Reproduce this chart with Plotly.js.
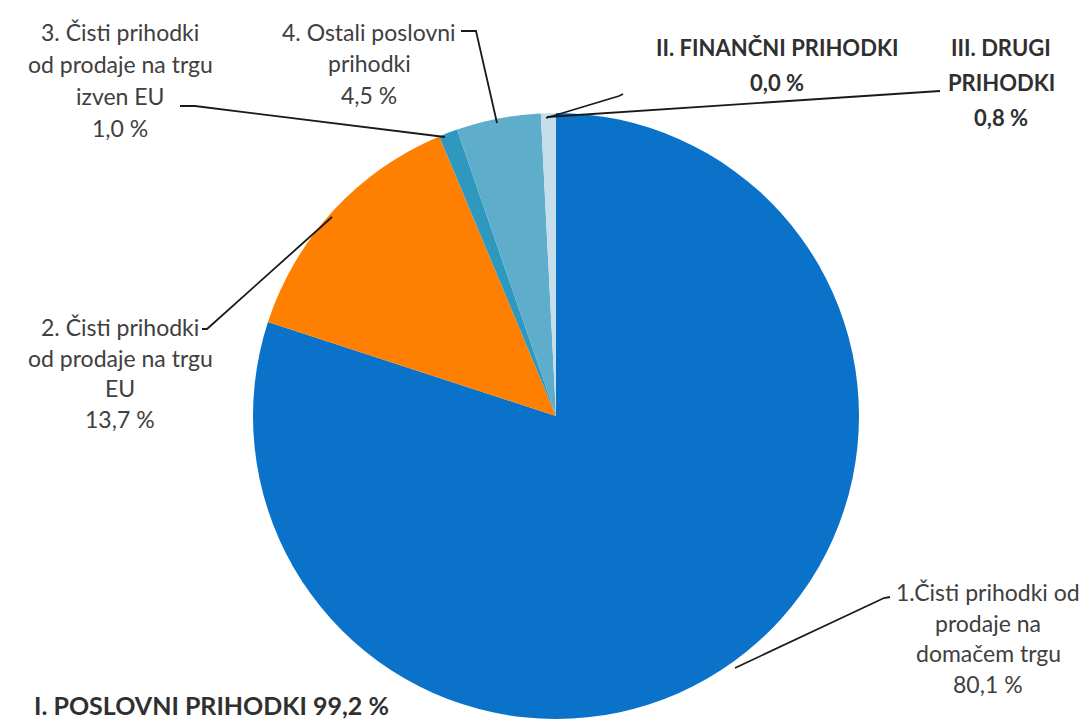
<!DOCTYPE html>
<html>
<head>
<meta charset="utf-8">
<script src="https://cdn.plot.ly/plotly-3.0.1.min.js"></script>
<style>html,body{margin:0;padding:0;background:#fff;}#chart{width:1088px;height:722px;}</style>
</head>
<body>
<div id="chart"></div>
<script>
// ---- data ----
var categories = [
  "1.Čisti prihodki od prodaje na domačem trgu",
  "2. Čisti prihodki od prodaje na trgu EU",
  "3. Čisti prihodki od prodaje na trgu izven EU",
  "4. Ostali poslovni prihodki",
  "II. FINANČNI PRIHODKI",
  "III. DRUGI PRIHODKI"
];
var values = [80.1, 13.7, 1.0, 4.5, 0.0, 0.8];
var labelLines = [
  ["1.Čisti prihodki od", "prodaje na", "domačem trgu"],
  ["2. Čisti prihodki", "od prodaje na trgu", "EU"],
  ["3. Čisti prihodki", "od prodaje na trgu", "izven EU"],
  ["4. Ostali poslovni", "prihodki"],
  ["II. FINANČNI PRIHODKI"],
  ["III. DRUGI", "PRIHODKI"]
];
var groupLabel = "I. POSLOVNI PRIHODKI";
var groupValue = 99.2;

// ---- styles / layout positions ----
var W = 1088, H = 722;
var colors = ["#0A72C8", "#FF8000", "#2F98BF", "#5EADCB", "#8FC3D8", "#C6DDEA"];
var bold = [false, false, false, false, true, true];
// label position: [center x px, first line y px, line spacing px]
var labelPos = [
  [988, 592, 30.5],
  [120, 327, 30.5],
  [120, 32, 32],
  [369, 32, 31.5],
  [777, 47, 35],
  [1001, 47, 35]
];
// leader lines in px
var leaders = [
  [[735, 668], [884, 598], [890, 597]],
  [[332, 217], [207, 329], [202, 329]],
  [[180, 106], [195, 106], [445, 137]],
  [[461, 31], [476, 31], [497, 123]],
  [[546, 118], [619, 96], [623, 94]],
  [[547, 117], [940, 91]]
];

function px(x) { return x / W; }
function py(y) { return 1 - y / H; }
function fmt(v) { return v.toFixed(1).replace('.', ',') + ' %'; }

var cx = 556, cy = 416, r = 303;
var trace = {
  type: 'pie',
  labels: categories,
  values: values,
  sort: false,
  direction: 'clockwise',
  rotation: 0,
  textinfo: 'none',
  hoverinfo: 'label+percent',
  marker: { colors: colors, line: { width: 0 } },
  domain: { x: [px(cx - r), px(cx + r)], y: [py(cy + r), py(cy - r)] },
  showlegend: false
};

var annotations = [];
labelLines.forEach(function (lines, i) {
  var all = lines.concat([fmt(values[i])]);
  var p = labelPos[i];
  all.forEach(function (t, j) {
    annotations.push({
      xref: 'paper', yref: 'paper',
      x: px(p[0]), y: py(p[1] + j * p[2]),
      xanchor: 'center', yanchor: 'middle',
      text: bold[i] ? '<b>' + t + '</b>' : t,
      showarrow: false,
      font: { family: 'Lato, "Open Sans", sans-serif', size: bold[i] ? 22 : 23, color: bold[i] ? '#303030' : '#404040' }
    });
  });
});
annotations.push({
  xref: 'paper', yref: 'paper', x: px(32), y: py(705),
  xanchor: 'left', yanchor: 'middle', showarrow: false,
  text: '<b>' + groupLabel + ' ' + fmt(groupValue) + '</b>',
  font: { family: 'Lato, "Open Sans", sans-serif', size: 25, color: '#303030' }
});

var shapes = leaders.map(function (pts) {
  var d = pts.map(function (p, k) { return (k ? 'L' : 'M') + px(p[0]) + ',' + py(p[1]); }).join(' ');
  return { type: 'path', xref: 'paper', yref: 'paper', path: d, line: { color: '#1a1a1a', width: 1.8 } };
});

var layout = {
  width: W, height: H,
  margin: { l: 0, r: 0, t: 0, b: 0 },
  paper_bgcolor: '#fff',
  annotations: annotations,
  shapes: shapes,
  showlegend: false
};
Plotly.newPlot('chart', [trace], layout, { displayModeBar: false, staticPlot: true });
</script>
</body>
</html>
